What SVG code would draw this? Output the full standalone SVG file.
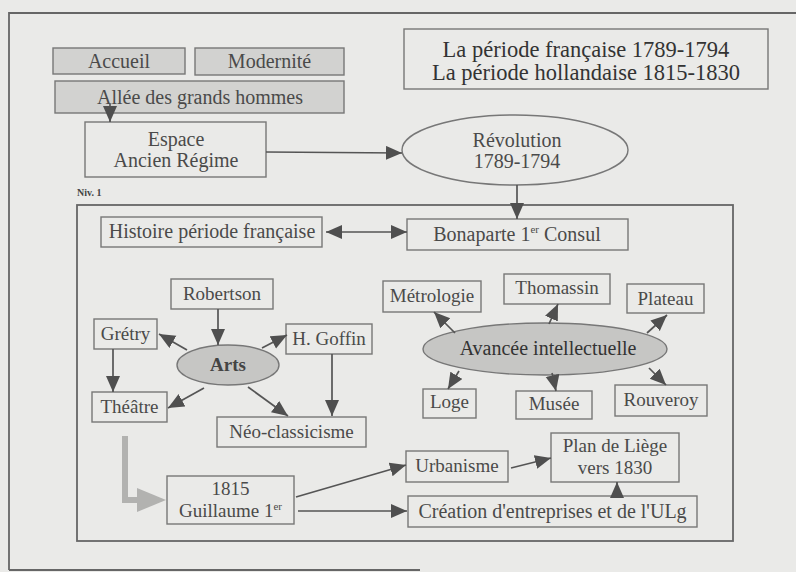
<svg xmlns="http://www.w3.org/2000/svg" width="796" height="572" viewBox="0 0 796 572" font-family="'Liberation Serif', 'DejaVu Serif', serif">
<defs>
<marker id="ah" markerUnits="userSpaceOnUse" markerWidth="17" markerHeight="15" refX="16" refY="7" orient="auto-start-reverse" viewBox="0 0 17 15">
<path d="M0,0 L16,7 L0,14 z" fill="#4f4f4f"/>
</marker>
</defs>
<style>
.bg{fill:#eaeae8}
.frame{fill:none;stroke:#666;stroke-width:1.8}
.box{fill:none;stroke:#777;stroke-width:1.4}
.gbox{fill:#d2d2d0;stroke:#777;stroke-width:1.4}
.ell{fill:none;stroke:#777;stroke-width:1.4}
.gell{fill:#c6c6c4;stroke:#777;stroke-width:1.4}
text{font-family:'Liberation Serif','DejaVu Serif',serif;fill:#4a4a4a;font-size:20px;text-anchor:middle}
.sm{font-size:19px}
.title{font-size:22.5px;fill:#333}
.bold{font-weight:bold;fill:#444}
.niv{font-size:10px;font-weight:bold;text-anchor:start;fill:#444}
.sup{font-size:11px}
.con line,.con path{stroke:#555;stroke-width:1.7;fill:none}
.arr{marker-end:url(#ah)}
</style>
<rect class="bg" x="0" y="0" width="796" height="572"/>
<g id="outer-frame">
<path class="frame" d="M9,570 V13 H796"/>
<path class="frame" d="M9,570 H420"/>
</g>
<g id="inner-frame"><rect class="frame" x="77" y="205" width="656" height="336"/></g>

<g id="accueil"><rect class="gbox" x="53" y="48" width="132" height="26"/><text x="119" y="68">Accueil</text></g>
<g id="modernite"><rect class="gbox" x="195" y="48" width="149" height="27"/><text x="269.5" y="68">Modernité</text></g>
<g id="allee"><rect class="gbox" x="55" y="81" width="289" height="32"/><text x="200" y="104">Allée des grands hommes</text></g>
<g id="espace"><rect class="box" x="85" y="122" width="181" height="55"/><text x="176" y="146">Espace</text><text x="176" y="167">Ancien Régime</text></g>
<g id="niv"><text class="niv" x="77" y="196">Niv. 1</text></g>
<g id="title"><rect class="box" x="404" y="29" width="364" height="60"/><text class="title" x="586" y="57">La période française 1789-1794</text><text class="title" x="586" y="80">La période hollandaise 1815-1830</text></g>
<g id="revolution"><ellipse class="ell" cx="515" cy="150" rx="113" ry="35"/><text x="517" y="147">Révolution</text><text x="517" y="168">1789-1794</text></g>
<g id="bonaparte"><rect class="box" x="407" y="219" width="221" height="31"/><text x="517" y="241">Bonaparte 1<tspan class="sup" dy="-8">er</tspan><tspan dy="8"> Consul</tspan></text></g>
<g id="histoire"><rect class="box" x="101" y="217" width="221" height="30"/><text x="212" y="238">Histoire période française</text></g>
<g id="robertson"><rect class="box" x="171" y="279" width="102" height="30"/><text class="sm" x="222" y="300">Robertson</text></g>
<g id="gretry"><rect class="box" x="94" y="319" width="63" height="30"/><text class="sm" x="125.5" y="340">Grétry</text></g>
<g id="goffin"><rect class="box" x="286" y="324" width="86" height="30"/><text class="sm" x="329" y="345">H. Goffin</text></g>
<g id="arts"><ellipse class="gell" cx="228" cy="365" rx="51" ry="20"/><text class="sm bold" x="228" y="371">Arts</text></g>
<g id="theatre"><rect class="box" x="92" y="392" width="75" height="30"/><text class="sm" x="129.5" y="413">Théâtre</text></g>
<g id="neo"><rect class="box" x="217" y="417" width="149" height="30"/><text class="sm" x="291.5" y="438">Néo-classicisme</text></g>
<g id="guillaume"><rect class="box" x="167" y="476" width="127" height="48"/><text class="sm" x="230.5" y="495">1815</text><text class="sm" x="230.5" y="517">Guillaume 1<tspan class="sup" dy="-7">er</tspan></text></g>
<g id="urbanisme"><rect class="box" x="406" y="451" width="102" height="31"/><text class="sm" x="457" y="472">Urbanisme</text></g>
<g id="plan"><rect class="box" x="551" y="433" width="128" height="49"/><text class="sm" x="615" y="452">Plan de Liège</text><text class="sm" x="615" y="474">vers 1830</text></g>
<g id="creation"><rect class="box" x="408" y="496" width="289" height="31"/><text x="552.5" y="518">Création d'entreprises et de l'ULg</text></g>
<g id="metrologie"><rect class="box" x="383" y="281" width="98" height="31"/><text class="sm" x="432" y="302">Métrologie</text></g>
<g id="thomassin"><rect class="box" x="504" y="274" width="106" height="30"/><text class="sm" x="557" y="294">Thomassin</text></g>
<g id="plateau"><rect class="box" x="627" y="284" width="77" height="29"/><text class="sm" x="665.5" y="305">Plateau</text></g>
<g id="avancee"><ellipse class="gell" cx="545" cy="349" rx="122" ry="26"/><text x="548" y="355" style="fill:#333">Avancée intellectuelle</text></g>
<g id="loge"><rect class="box" x="423" y="389" width="53" height="29"/><text class="sm" x="449.5" y="408">Loge</text></g>
<g id="musee"><rect class="box" x="516" y="391" width="76" height="28"/><text class="sm" x="554" y="410">Musée</text></g>
<g id="rouveroy"><rect class="box" x="615" y="385" width="92" height="31"/><text class="sm" x="661" y="406">Rouveroy</text></g>

<g id="connectors" class="con">
<line class="arr" x1="110" y1="104" x2="110" y2="122"/>
<line class="arr" x1="266" y1="152" x2="402" y2="153"/>
<line class="arr" x1="517" y1="185" x2="517" y2="219"/>
<line class="arr" x1="326" y1="232" x2="407" y2="232" style="marker-start:url(#ah)"/>
<line class="arr" x1="218" y1="309" x2="218" y2="345"/>
<line class="arr" x1="187" y1="350" x2="159" y2="334"/>
<line class="arr" x1="262" y1="348" x2="287" y2="335"/>
<line class="arr" x1="113" y1="349" x2="113" y2="392"/>
<line class="arr" x1="204" y1="388" x2="168" y2="408"/>
<line class="arr" x1="248" y1="387" x2="288" y2="416"/>
<line class="arr" x1="332" y1="354" x2="332" y2="416"/>
<path d="M125,436 V500 H140" style="stroke:#b2b2b0;stroke-width:6"/>
<path d="M137,488 L166,500 L137,512 z" style="fill:#b2b2b0;stroke:none"/>
<line class="arr" x1="296" y1="497" x2="406" y2="465"/>
<line class="arr" x1="298" y1="511" x2="407" y2="511"/>
<line class="arr" x1="511" y1="468" x2="551" y2="458"/>
<line class="arr" x1="617" y1="497" x2="617" y2="482"/>
<line class="arr" x1="455" y1="333" x2="434" y2="312"/>
<line class="arr" x1="549" y1="324" x2="558" y2="304"/>
<line class="arr" x1="647" y1="333" x2="667" y2="315"/>
<line class="arr" x1="459" y1="371" x2="448" y2="389"/>
<line class="arr" x1="552" y1="373" x2="556" y2="391"/>
<line class="arr" x1="649" y1="368" x2="666" y2="385"/>
</g>
</svg>
